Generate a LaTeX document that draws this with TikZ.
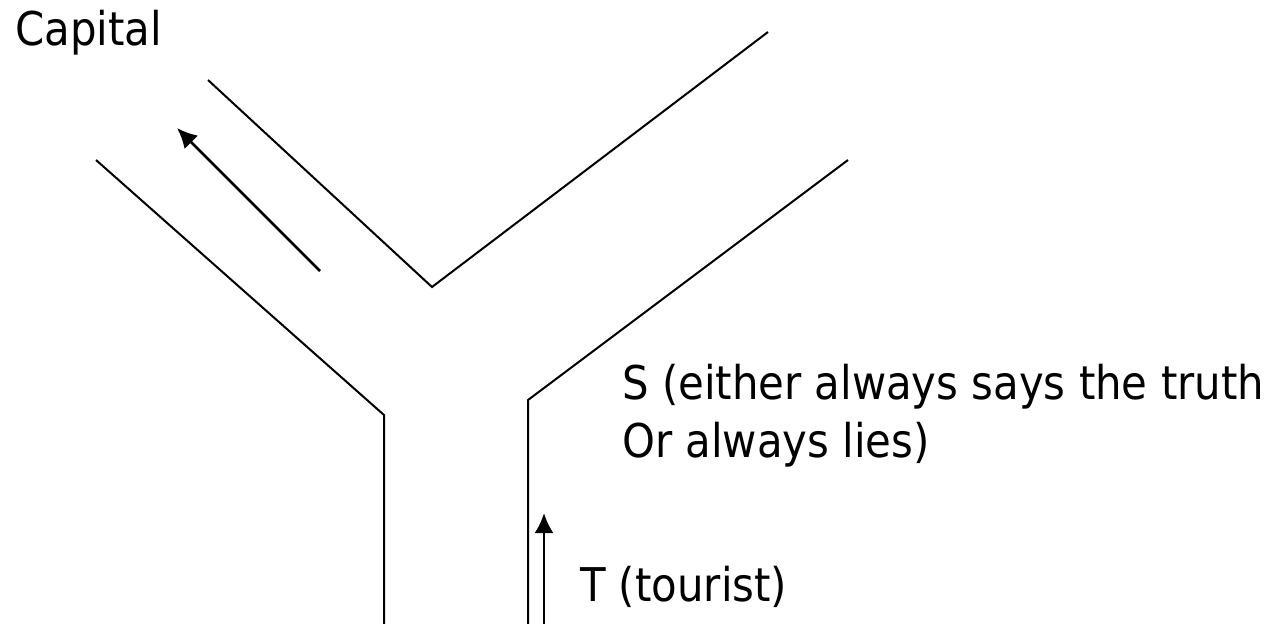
\documentclass[tikz,border=0pt]{standalone}
\usepackage{fontspec}
\setmainfont{DejaVu Sans Condensed}
\usetikzlibrary{arrows.meta}
\begin{document}
\begin{tikzpicture}[x=1pt,y=-1pt,
  wall/.style={line width=2pt,line join=miter},
  walk/.style={line width=2.8pt,-{Latex[length=20pt,width=19pt]}},
  lbl/.style={anchor=base west,inner sep=0pt,font=\fontsize{46.5}{56}\selectfont}]
\useasboundingbox (0,0) rectangle (1286,624);
% road walls
\coordinate (l1) at (96,160);
\coordinate (l2) at (384,415);
\coordinate (l3) at (384,624);
\coordinate (v1) at (208,80);
\coordinate (v2) at (432,287);
\coordinate (v3) at (768,32);
\coordinate (r1) at (848,160);
\coordinate (r2) at (528,400);
\coordinate (r3) at (528,624);
\draw[wall] (l1) -- (l2) -- (l3);
\draw[wall] (v1) -- (v2) -- (v3);
\draw[wall] (r1) -- (r2) -- (r3);
% arrows
\coordinate (a1) at (320,271);
\coordinate (a2) at (177,128);
\draw[walk] (a1) -- (a2);
\coordinate (b1) at (544,624);
\coordinate (b2) at (544,513);
\draw[walk] (b1) -- (b2);
% labels
\node[lbl] (cap) at (15,45) {Capital};
\node[lbl] (s1) at (622,399) {S (either always says the truth};
\node[lbl] (s2) at (622,457) {Or always lies)};
\node[lbl] (t) at (580,601) {T (tourist)};
\end{tikzpicture}
\end{document}
